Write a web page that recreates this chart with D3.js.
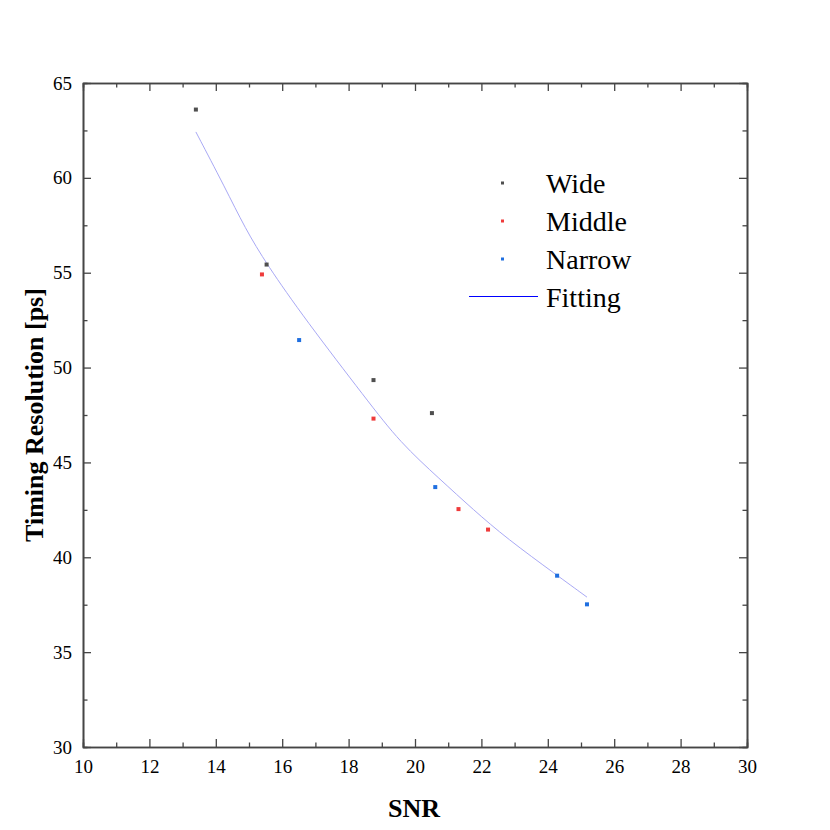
<!DOCTYPE html>
<html>
<head>
<meta charset="utf-8">
<title>Timing Resolution vs SNR</title>
<script src="https://d3js.org/d3.v7.min.js"></script>
<style>
  body { margin: 0; background: #fff; }
  text { font-family: "Liberation Serif", "Times New Roman", serif; }
</style>
</head>
<body>
<svg width="830" height="830"></svg>
<script>
// data
var wideX = [13.40, 15.53, 18.75, 20.51];
var wideY = [63.60, 55.43, 49.34, 47.60];
var middleX = [15.39, 18.75, 21.31, 22.20];
var middleY = [54.91, 47.31, 42.54, 41.46];
var narrowX = [16.51, 20.61, 24.28, 25.18];
var narrowY = [51.45, 43.70, 39.03, 37.52];
var fitX = [13.40, 14.28, 14.88, 15.53, 16.69, 18.55, 19.55, 20.75, 21.76, 22.76, 24.27, 25.18];
var fitY = [62.42, 59.48, 57.35, 55.45, 52.55, 48.30, 46.05, 44.12, 42.50, 41.00, 39.06, 37.90];
var xTicks = [10, 12, 14, 16, 18, 20, 22, 24, 26, 28, 30];
var yTicks = [30, 35, 40, 45, 50, 55, 60, 65];

var series = [
  { name: "Wide", xs: wideX, ys: wideY, color: "#4f4f4f" },
  { name: "Middle", xs: middleX, ys: middleY, color: "#ef3b3b" },
  { name: "Narrow", xs: narrowX, ys: narrowY, color: "#1f6fe0" }
];

var serif = "'Liberation Serif', 'Times New Roman', serif";
var svg = d3.select("svg");
var margin = { top: 83, left: 83 };
var width = 664, height = 664;
var g = svg.append("g").attr("transform", "translate(" + margin.left + "," + margin.top + ")");

var x = d3.scaleLinear().domain([10, 30]).range([0, width]);
var y = d3.scaleLinear().domain([30, 65]).range([height, 0]);

var axisColor = "#454545";

// axes, ticks pointing inward
function styleAxis(sel) {
  sel.attr("font-family", serif).attr("font-size", 19);
  sel.select(".domain").attr("stroke", axisColor).attr("stroke-width", 1.6);
  sel.selectAll(".tick line").attr("stroke", axisColor).attr("stroke-width", 1.3);
  sel.selectAll("text").attr("fill", "#000");
}

var xMinor = d3.range(11, 30, 2);
var yMinor = d3.range(32.5, 65, 5);

// bottom
g.append("g").attr("transform", "translate(0," + height + ")")
  .call(d3.axisBottom(x).tickValues(xMinor).tickSize(-4.5).tickFormat(""))
  .call(styleAxis);
g.append("g").attr("transform", "translate(0," + height + ")")
  .call(d3.axisBottom(x).tickValues(xTicks).tickSize(-8).tickPadding(13).tickSizeOuter(0))
  .call(styleAxis);
// top
g.append("g")
  .call(d3.axisTop(x).tickValues(xMinor).tickSize(-4.5).tickFormat(""))
  .call(styleAxis);
g.append("g")
  .call(d3.axisTop(x).tickValues(xTicks).tickSize(-8).tickFormat("").tickSizeOuter(0))
  .call(styleAxis);
// left
g.append("g")
  .call(d3.axisLeft(y).tickValues(yMinor).tickSize(-4.5).tickFormat(""))
  .call(styleAxis);
g.append("g")
  .call(d3.axisLeft(y).tickValues(yTicks).tickSize(-8).tickPadding(11).tickSizeOuter(0))
  .call(styleAxis);
// right
g.append("g").attr("transform", "translate(" + width + ",0)")
  .call(d3.axisRight(y).tickValues(yMinor).tickSize(-4.5).tickFormat(""))
  .call(styleAxis);
g.append("g").attr("transform", "translate(" + width + ",0)")
  .call(d3.axisRight(y).tickValues(yTicks).tickSize(-8).tickFormat("").tickSizeOuter(0))
  .call(styleAxis);

// fitting curve
var fitData = fitX.map(function (d, i) { return [d, fitY[i]]; });
g.append("path")
  .datum(fitData)
  .attr("fill", "none")
  .attr("stroke", "#a9a9f5")
  .attr("stroke-width", 1)
  .attr("d", d3.line().x(function (d) { return x(d[0]); }).y(function (d) { return y(d[1]); }).curve(d3.curveBasis));

// points
series.forEach(function (s) {
  g.selectAll(null)
    .data(s.xs.map(function (d, i) { return [d, s.ys[i]]; }))
    .enter()
    .append("rect")
    .attr("x", function (d) { return x(d[0]) - 2; })
    .attr("y", function (d) { return y(d[1]) - 2; })
    .attr("width", 4)
    .attr("height", 4)
    .attr("fill", s.color);
});

// legend
var legend = svg.append("g").attr("transform", "translate(469,183)");
series.forEach(function (s, i) {
  legend.append("rect")
    .attr("x", 32)
    .attr("y", i * 38 - 1.5)
    .attr("width", 3)
    .attr("height", 3)
    .attr("fill", s.color);
  legend.append("text")
    .attr("x", 77)
    .attr("y", i * 38 + 10)
    .attr("font-size", "28px")
    .text(s.name);
});
legend.append("line")
  .attr("x1", 0).attr("x2", 69)
  .attr("y1", 3 * 38 - 0.5).attr("y2", 3 * 38 - 0.5)
  .attr("stroke", "#0000ff").attr("stroke-width", 1.2);
legend.append("text")
  .attr("x", 77)
  .attr("y", 3 * 38 + 10)
  .attr("font-size", "28px")
  .text("Fitting");

// axis titles
svg.append("text")
  .attr("x", 414).attr("y", 817)
  .attr("text-anchor", "middle")
  .attr("font-size", "26px")
  .attr("font-weight", "bold")
  .text("SNR");
svg.append("text")
  .attr("transform", "translate(43,415) rotate(-90)")
  .attr("text-anchor", "middle")
  .attr("font-size", "26px")
  .attr("font-weight", "bold")
  .text("Timing Resolution [ps]");
</script>
</body>
</html>
